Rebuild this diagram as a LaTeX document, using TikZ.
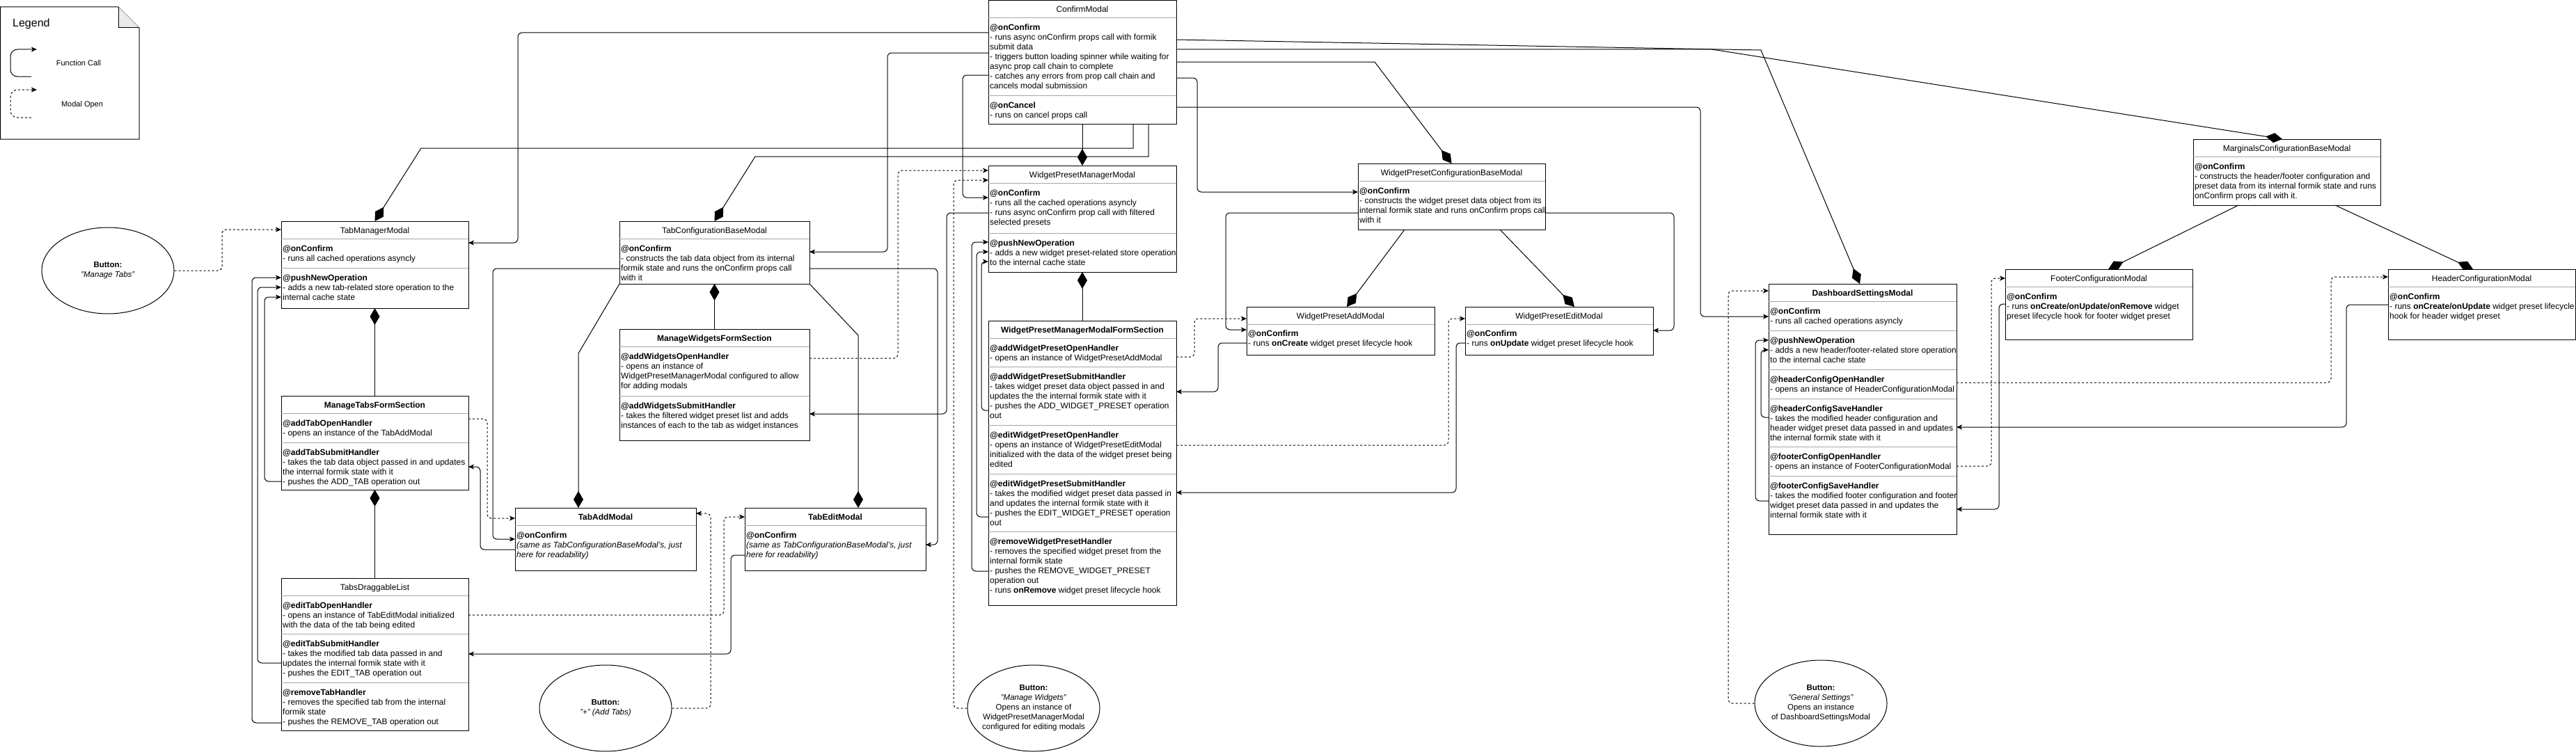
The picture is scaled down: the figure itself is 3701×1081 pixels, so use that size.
\documentclass[tikz,border=0pt]{standalone}
\usepackage{fontspec}
\setmainfont{Liberation Sans}
\usetikzlibrary{arrows.meta,shapes.geometric,calc}
\newcommand\bfs{\fontsize{12}{14}\selectfont}
\newcommand\sfs{\fontsize{11.5}{14}\selectfont}
\newcommand\hdl[1]{\textbf{@#1}}
\newcounter{txc}
\tikzset{
 box/.style={draw, line width=1pt, anchor=north west, inner sep=0pt, outer sep=0pt},
 sepl/.style={draw=black!35, line width=1pt},
 ttl/.style={anchor=base, inner sep=0pt, font=\bfs},
 body/.style={anchor=north west, inner sep=0pt, align=left, font=\bfs},
 fc/.style={line width=1pt, rounded corners=6pt, -{Stealth[length=8pt,width=7pt,inset=2pt]}},
 mo/.style={fc, dash pattern=on 3pt off 3pt},
 comp/.style={line width=1pt, {Diamond[length=24pt,width=14pt]}-},
 btn/.style={ellipse, draw, line width=1pt, minimum width=190pt, minimum height=124pt, inner sep=0pt},
 btxt/.style={align=center, font=\sfs, inner sep=0pt},
}
\newcommand\classbox[6]{%
 \node[box, minimum width={(#4)-(#2)}, minimum height={(#5)-(#3)}] (#1) at (#2,#3) {};
 \draw[sepl] (#2,#3+25) -- (#4,#3+25);
 \node[ttl] (#1t) at ({(#2+#4)/2},#3+17) {#6};}
\newcommand\secline[3]{\draw[sepl] (#1,#3) -- (#2,#3);}
\newcommand\sectext[3]{\stepcounter{txc}\node[body] (tx\arabic{txc}) at (#1+2,#2+8) {\strut #3};}
\begin{document}
\begin{tikzpicture}[x=1pt,y=-1pt]
\useasboundingbox (0,0) rectangle (3701,1081);
% Legend
\draw[line width=1pt] (0.5,10) -- (170,10) -- (200,40) -- (200,200) -- (0.5,200) -- cycle;
\filldraw[fill=black!8, line width=1pt] (170,10) -- (170,40) -- (200,40);
\node[anchor=base west, inner sep=0pt, font=\fontsize{16}{18}\selectfont] (legT) at (18,39) {Legend};
\coordinate (l1s) at (45,110); \coordinate (l1e) at (53,71);
\coordinate (l2s) at (45,169); \coordinate (l2e) at (53,129);
\draw[fc, rounded corners=10pt] (l1s) -- (15,110) -- (15,71) -- (l1e);
\draw[mo, rounded corners=10pt] (l2s) -- (15,169) -- (15,129) -- (l2e);
\node[font=\fontsize{11}{13}\selectfont] (legFC) at (113,91) {Function Call};
\node[font=\fontsize{11}{13}\selectfont] (legMO) at (118,151) {Modal Open};

% ConfirmModal
\classbox{cm}{1420}{1}{1690}{178}{ConfirmModal}
\secline{1420}{1690}{137}
\sectext{1420}{25}{\hdl{onConfirm}\\- runs async onConfirm props call with formik\\submit data\\- triggers button loading spinner while waiting for\\async prop call chain to complete\\- catches any errors from prop call chain and\\cancels modal submission}
\sectext{1420}{137}{\hdl{onCancel}\\- runs on cancel props call}

% TabManagerModal
\classbox{tmm}{404}{318}{673}{443}{TabManagerModal}
\secline{404}{673}{385}
\sectext{404}{343}{\hdl{onConfirm}\\- runs all cached operations asyncly}
\sectext{404}{385}{\hdl{pushNewOperation}\\- adds a new tab-related store operation to the\\internal cache state}

% TabConfigurationBaseModal
\classbox{tcbm}{890}{318}{1163}{408}{TabConfigurationBaseModal}
\sectext{890}{343}{\hdl{onConfirm}\\- constructs the tab data object from its internal\\formik state and runs the onConfirm props call\\with it}

% ManageWidgetsFormSection
\classbox{mwfs}{890}{473}{1163}{633}{\textbf{ManageWidgetsFormSection}}
\secline{890}{1163}{569}
\sectext{890}{498}{\hdl{addWidgetsOpenHandler}\\- opens an instance of\\WidgetPresetManagerModal configured to allow\\for adding modals}
\sectext{890}{569}{\hdl{addWidgetsSubmitHandler}\\- takes the filtered widget preset list and adds\\instances of each to the tab as widget instances}

% ManageTabsFormSection
\classbox{mtfs}{404}{569}{673}{704}{\textbf{ManageTabsFormSection}}
\secline{404}{673}{636}
\sectext{404}{594}{\hdl{addTabOpenHandler}\\- opens an instance of the TabAddModal}
\sectext{404}{636}{\hdl{addTabSubmitHandler}\\- takes the tab data object passed in and updates\\the internal formik state with it\\- pushes the ADD\_TAB operation out}

% TabsDraggableList
\classbox{tdl}{404}{831}{673}{1050}{TabsDraggableList}
\secline{404}{673}{911}\secline{404}{673}{981}
\sectext{404}{856}{\hdl{editTabOpenHandler}\\- opens an instance of TabEditModal initialized\\with the data of the tab being edited}
\sectext{404}{911}{\hdl{editTabSubmitHandler}\\- takes the modified tab data passed in and\\updates the internal formik state with it\\- pushes the EDIT\_TAB operation out}
\sectext{404}{981}{\hdl{removeTabHandler}\\- removes the specified tab from the internal\\formik state\\- pushes the REMOVE\_TAB operation out}

% TabAddModal / TabEditModal
\classbox{tam}{740}{730}{1000}{820}{\textbf{TabAddModal}}
\sectext{740}{755}{\hdl{onConfirm}\\\textit{(same as TabConfigurationBaseModal's, just}\\\textit{here for readability)}}
\classbox{tem}{1070}{730}{1330}{820}{\textbf{TabEditModal}}
\sectext{1070}{755}{\hdl{onConfirm}\\\textit{(same as TabConfigurationBaseModal's, just}\\\textit{here for readability)}}

% WidgetPresetManagerModal
\classbox{wpmm}{1420}{238}{1690}{391}{WidgetPresetManagerModal}
\secline{1420}{1690}{335}
\sectext{1420}{263}{\hdl{onConfirm}\\- runs all the cached operations asyncly\\- runs async onConfirm prop call with filtered\\selected presets}
\sectext{1420}{335}{\hdl{pushNewOperation}\\- adds a new widget preset-related store operation\\to the internal cache state}

% WidgetPresetManagerModalFormSection
\classbox{wpmmfs}{1420}{461}{1690}{870}{\textbf{WidgetPresetManagerModalFormSection}}
\secline{1420}{1690}{527}\secline{1420}{1690}{611}\secline{1420}{1690}{681}\secline{1420}{1690}{764}
\sectext{1420}{486}{\hdl{addWidgetPresetOpenHandler}\\- opens an instance of WidgetPresetAddModal}
\sectext{1420}{527}{\hdl{addWidgetPresetSubmitHandler}\\- takes widget preset data object passed in and\\updates the the internal formik state with it\\- pushes the ADD\_WIDGET\_PRESET operation\\out}
\sectext{1420}{611}{\hdl{editWidgetPresetOpenHandler}\\- opens an instance of WidgetPresetEditModal\\initialized with the data of the widget preset being\\edited}
\sectext{1420}{681}{\hdl{editWidgetPresetSubmitHandler}\\- takes the modified widget preset data passed in\\and updates the internal formik state with it\\- pushes the EDIT\_WIDGET\_PRESET operation\\out}
\sectext{1420}{764}{\hdl{removeWidgetPresetHandler}\\- removes the specified widget preset from the\\internal formik state\\- pushes the REMOVE\_WIDGET\_PRESET\\operation out\\- runs \textbf{onRemove} widget preset lifecycle hook}

% WidgetPresetConfigurationBaseModal
\classbox{wpcbm}{1951}{235}{2220}{330}{WidgetPresetConfigurationBaseModal}
\sectext{1951}{260}{\hdl{onConfirm}\\- constructs the widget preset data object from its\\internal formik state and runs onConfirm props call\\with it}
\classbox{wpam}{1791}{441}{2061}{510}{WidgetPresetAddModal}
\sectext{1791}{465}{\hdl{onConfirm}\\- runs \textbf{onCreate} widget preset lifecycle hook}
\classbox{wpem}{2105}{441}{2375}{510}{WidgetPresetEditModal}
\sectext{2105}{465}{\hdl{onConfirm}\\- runs \textbf{onUpdate} widget preset lifecycle hook}

% Marginals
\classbox{mcbm}{3151}{200}{3420}{295}{MarginalsConfigurationBaseModal}
\sectext{3151}{225}{\hdl{onConfirm}\\- constructs the header/footer configuration and\\preset data from its internal formik state and runs\\onConfirm props call with it.}
\classbox{fcm}{2881}{387}{3150}{488}{FooterConfigurationModal}
\sectext{2881}{412}{\hdl{onConfirm}\\- runs \textbf{onCreate/onUpdate/onRemove} widget\\preset lifecycle hook for footer widget preset}
\classbox{hcm}{3431}{387}{3700}{488}{HeaderConfigurationModal}
\sectext{3431}{412}{\hdl{onConfirm}\\- runs \textbf{onCreate/onUpdate} widget preset lifecycle\\hook for header widget preset}

% DashboardSettingsModal
\classbox{dsm}{2541}{408}{2811}{768}{\textbf{DashboardSettingsModal}}
\secline{2541}{2811}{475}\secline{2541}{2811}{531}\secline{2541}{2811}{573}\secline{2541}{2811}{642}\secline{2541}{2811}{684}
\sectext{2541}{433}{\hdl{onConfirm}\\- runs all cached operations asyncly}
\sectext{2541}{475}{\hdl{pushNewOperation}\\- adds a new header/footer-related store operation\\to the internal cache state}
\sectext{2541}{531}{\hdl{headerConfigOpenHandler}\\- opens an instance of HeaderConfigurationModal}
\sectext{2541}{573}{\hdl{headerConfigSaveHandler}\\- takes the modified header configuration and\\header widget preset data passed in and updates\\the internal formik state with it}
\sectext{2541}{642}{\hdl{footerConfigOpenHandler}\\- opens an instance of FooterConfigurationModal}
\sectext{2541}{684}{\hdl{footerConfigSaveHandler}\\- takes the modified footer configuration and footer\\widget preset data passed in and updates the\\internal formik state with it}

% Buttons
\node[btn] (btab) at (155,389) {};
\node[btxt] (btabt) at (btab.center) {\textbf{Button:}\\\textit{"Manage Tabs"}};
\node[btn] (badd) at (870,1018) {};
\node[btxt] (baddt) at (badd.center) {\textbf{Button:}\\\textit{"+" (Add Tabs)}};
\node[btn] (bwid) at (1485,1018) {};
\node[btxt] (bwidt) at (bwid.center) {\textbf{Button:}\\\textit{"Manage Widgets"}\\Opens an instance of\\WidgetPresetManagerModal\\configured for editing modals};
\node[btn] (bgen) at (2616,1011) {};
\node[btxt] (bgent) at (bgen.center) {\textbf{Button:}\\\textit{"General Settings"}\\Opens an instance\\of DashboardSettingsModal};

% Compositions
\draw[comp] (wpmm.north) -- (cm.south);
\draw[comp] (tmm.north) -- (605,213) -- (1628,213) -- (cm.south -| 1628,0);
\draw[comp] (tcbm.north) -- (1085,225) -- (1650,225) -- (cm.south -| 1650,0);
\draw[comp] (wpcbm.north) -- (1975,89) -- (cm.east |- 0,89);
\draw[comp] (dsm.north -| 2672,0) -- (2530,72) -- (cm.east |- 0,57);
\draw[comp] (mcbm.north -| 3279,0) -- (2460,71) -- (cm.east |- 0,71);
\draw[comp] (tam.north -| 831,0) -- (831,508) -- (tcbm.south west);
\draw[comp] (tem.north -| 1233,0) -- (1233,482) -- (tcbm.south east);
\draw[comp] (tmm.south) -- (mtfs.north);
\draw[comp] (mtfs.south) -- (tdl.north);
\draw[comp] (tcbm.south) -- (mwfs.north);
\draw[comp] (wpmm.south) -- (wpmmfs.north);
\draw[comp] (wpam.north -| 1935,0) -- (wpcbm.south -| 2018,0);
\draw[comp] (wpem.north -| 2262,0) -- (wpcbm.south -| 2155,0);
\draw[comp] (fcm.north -| 3029,0) -- (mcbm.south -| 3216,0);
\draw[comp] (hcm.north -| 3553,0) -- (mcbm.south -| 3355,0);

% Function calls
\draw[fc] (cm.west |- 0,47) -- (744,47) -- (744,349) -- (tmm.east |- 0,349);
\draw[fc] (cm.west |- 0,76) -- (1275,76) -- (1275,362) -- (tcbm.east |- 0,362);
\draw[fc] (cm.west |- 0,108) -- (1383,108) -- (1383,284) -- (wpmm.west |- 0,284);
\draw[fc] (cm.east |- 0,112) -- (1720,112) -- (1720,276) -- (wpcbm.west |- 0,276);
\draw[fc] (cm.east |- 0,154) -- (2443,154) -- (2443,455) -- (dsm.west |- 0,455);
\draw[fc] (tcbm.west |- 0,386) -- (708,386) -- (708,775) -- (tam.west |- 0,775);
\draw[fc] (tcbm.east |- 0,386) -- (1347,386) -- (1347,783) -- (tem.east |- 0,783);
\draw[fc] (tam.west |- 0,790) -- (690,790) -- (690,671) -- (mtfs.east |- 0,671);
\draw[fc] (tem.west |- 0,798) -- (1050,798) -- (1050,940) -- (tdl.east |- 0,940);
\draw[fc] (mtfs.west |- 0,692) -- (380,692) -- (380,427) -- (tmm.west |- 0,427);
\draw[fc] (tdl.west |- 0,953) -- (370,953) -- (370,413) -- (tmm.west |- 0,413);
\draw[fc] (tdl.west |- 0,1039) -- (362,1039) -- (362,399) -- (tmm.west |- 0,399);
\draw[fc] (wpmm.west |- 0,306) -- (1360,306) -- (1360,595) -- (mwfs.east |- 0,595);
\draw[fc] (wpmmfs.west |- 0,590) -- (1410,590) -- (1410,376) -- (wpmm.west |- 0,376);
\draw[fc] (wpmmfs.west |- 0,743) -- (1403,743) -- (1403,362) -- (wpmm.west |- 0,362);
\draw[fc] (wpmmfs.west |- 0,821) -- (1396,821) -- (1396,348) -- (wpmm.west |- 0,348);
\draw[fc] (wpcbm.west |- 0,306) -- (1761,306) -- (1761,474) -- (wpam.west |- 0,474);
\draw[fc] (wpcbm.east |- 0,306) -- (2405,306) -- (2405,475) -- (wpem.east |- 0,475);
\draw[fc] (wpam.west |- 0,493) -- (1750,493) -- (1750,563) -- (wpmmfs.east |- 0,563);
\draw[fc] (wpem.west |- 0,493) -- (2092,493) -- (2092,708) -- (wpmmfs.east |- 0,708);
\draw[fc] (fcm.west |- 0,437) -- (2872,437) -- (2872,732) -- (dsm.east |- 0,732);
\draw[fc] (hcm.west |- 0,438) -- (3371,438) -- (3371,614) -- (dsm.east |- 0,614);
\draw[fc] (dsm.west |- 0,600) -- (2530,600) -- (2530,503) -- (dsm.west |- 0,503);
\draw[fc] (dsm.west |- 0,720) -- (2522,720) -- (2522,489) -- (dsm.west |- 0,489);

% Modal opens
\draw[mo] (btab.east) -- (319,389) -- (319,330) -- (tmm.west |- 0,330);
\draw[mo] (mtfs.east |- 0,602) -- (700,602) -- (700,745) -- (tam.west |- 0,745);
\draw[mo] (badd.east) -- (1021,1018) -- (1021,738) -- (tam.east |- 0,738);
\draw[mo] (tdl.east |- 0,884) -- (1040,884) -- (1040,743) -- (tem.west |- 0,743);
\draw[mo] (mwfs.east |- 0,515) -- (1290,515) -- (1290,245) -- (wpmm.west |- 0,245);
\draw[mo] (bwid.west) -- (1370,1018) -- (1370,259) -- (wpmm.west |- 0,259);
\draw[mo] (wpmmfs.east |- 0,513) -- (1716,513) -- (1716,458) -- (wpam.west |- 0,458);
\draw[mo] (wpmmfs.east |- 0,640) -- (2081,640) -- (2081,458) -- (wpem.west |- 0,458);
\draw[mo] (bgen.west) -- (2483,1011) -- (2483,418) -- (dsm.west |- 0,418);
\draw[mo] (dsm.east |- 0,550) -- (3349,550) -- (3349,398) -- (hcm.west |- 0,398);
\draw[mo] (dsm.east |- 0,670) -- (2861,670) -- (2861,400) -- (fcm.west |- 0,400);
\end{tikzpicture}
\end{document}
